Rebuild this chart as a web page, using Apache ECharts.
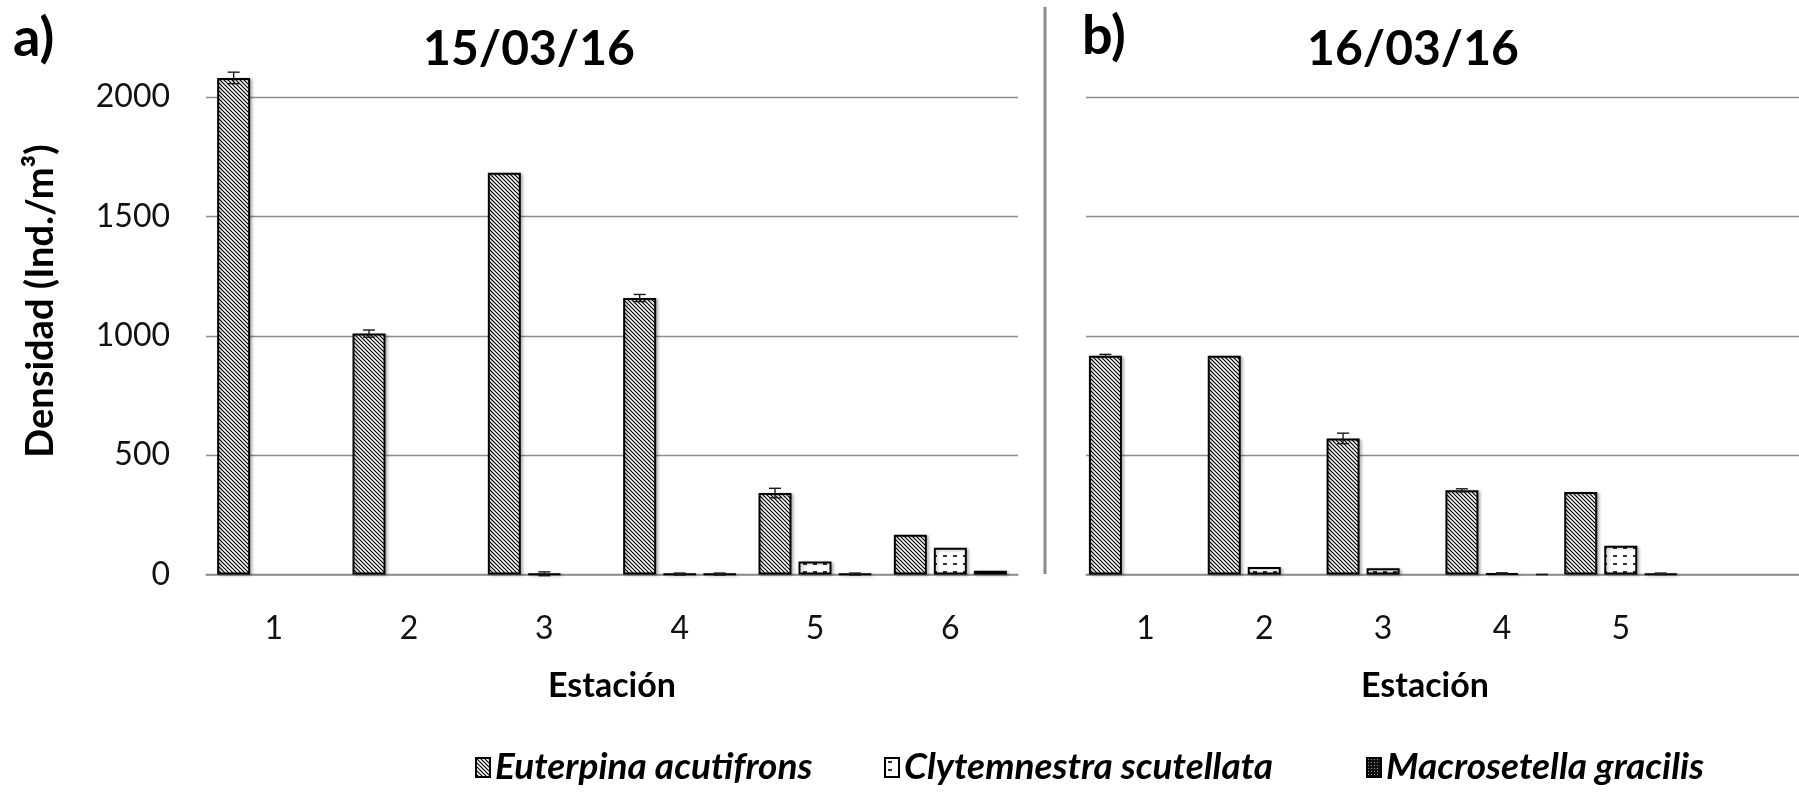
<!DOCTYPE html>
<html>
<head>
<meta charset="utf-8">
<script src="https://cdn.jsdelivr.net/npm/echarts@6/dist/echarts.min.js"></script>
<style>
  html, body { margin: 0; padding: 0; background: #ffffff; }
  #chart { width: 1799px; height: 792px; }
</style>
</head>
<body>
<div id="chart"></div>
<script>
// ---- data ----
const speciesNames = ['Euterpina acutifrons', 'Clytemnestra scutellata', 'Macrosetella gracilis'];
const stationsA = ['1', '2', '3', '4', '5', '6'];
const stationsB = ['1', '2', '3', '4', '5'];
const yMin = 0, yMax = 2000, yStep = 500;

// 15/03/16 — mean density and error (Ind./m³)
const euterpinaA       = [2080, 1009, 1683, 1158, 341, 166];
const euterpinaErrA    = [24, 15, null, 15, 20, null];
const clytemnestraA    = [null, null, 3, 2, 54, 112];
const clytemnestraErrA = [null, null, 8, 4, null, null];
const macrosetellaA    = [null, null, null, 2, 2, 16];
const macrosetellaErrA = [null, null, null, 4, 4, null];

// 16/03/16
const euterpinaB       = [916, 916, 570, 353, 346];
const euterpinaErrB    = [6, null, 22, 6, null];
const clytemnestraB    = [null, 31, 26, 4, 120];
const clytemnestraErrB = [null, null, null, 3, null];
const macrosetellaB    = [null, null, null, 0, 3];
const macrosetellaErrB = [null, null, null, 0, 3];

// ---- fill patterns ----
function hatchPattern() {
  const c = document.createElement('canvas');
  c.width = 4; c.height = 4;
  const g = c.getContext('2d');
  g.fillStyle = '#fff'; g.fillRect(0, 0, 4, 4);
  g.strokeStyle = '#000'; g.lineWidth = 1.2;
  g.beginPath();
  g.moveTo(-1, -1); g.lineTo(5, 5);
  g.moveTo(-1, 3); g.lineTo(1, 5);
  g.moveTo(3, -1); g.lineTo(5, 1);
  g.stroke();
  return { image: c, repeat: 'repeat' };
}
function dashPattern() {
  const c = document.createElement('canvas');
  c.width = 10; c.height = 8;
  const g = c.getContext('2d');
  g.fillStyle = '#fff'; g.fillRect(0, 0, 10, 8);
  g.strokeStyle = '#000'; g.lineWidth = 1.6;
  g.beginPath(); g.moveTo(3, 4); g.lineTo(7, 4); g.stroke();
  return { image: c, repeat: 'repeat' };
}
function dotPattern() {
  const c = document.createElement('canvas');
  c.width = 3; c.height = 3;
  const g = c.getContext('2d');
  g.fillStyle = '#111'; g.fillRect(0, 0, 3, 3);
  g.fillStyle = '#9a9a9a'; g.fillRect(1, 1, 1, 1);
  return { image: c, repeat: 'repeat' };
}
const fills = [hatchPattern(), dashPattern(), dotPattern()];

// ---- layout constants ----
const BAR_W = 33, BAR_GAP = 7;
const FONT = 'Lato, "Open Sans", sans-serif';
const GRID_TOP = 97, GRID_H = 477.5;

function barSeries(name, idx, data, axis) {
  return {
    name, type: 'bar', xAxisIndex: axis, yAxisIndex: axis,
    // zero-height bars are left to the error-bar layer
    data: data.map(v => (v === 0 ? null : v)),
    barWidth: BAR_W, barGap: (BAR_GAP / BAR_W * 100) + '%',
    clip: false,
    itemStyle: {
      color: fills[idx], borderColor: '#000', borderWidth: 2,
      shadowColor: 'rgba(0,0,0,0.25)', shadowBlur: 3, shadowOffsetX: 2, shadowOffsetY: 1
    },
    emphasis: { disabled: true }
  };
}

function errorData(values, errs) {
  const out = [];
  values.forEach((vals, s) => {
    vals.forEach((v, i) => {
      if (v != null && errs[s][i] != null) out.push([i, v, errs[s][i], s]);
    });
  });
  return out;
}

function errorSeries(data, axis) {
  return {
    type: 'custom', xAxisIndex: axis, yAxisIndex: axis, clip: false, z: 5,
    data,
    renderItem(params, api) {
      const cat = api.value(0), v = api.value(1), e = api.value(2), s = api.value(3);
      const off = (s - 1) * (BAR_W + BAR_GAP);
      const hi = api.coord([cat, v + e]);
      const lo = api.coord([cat, v - e]);
      const x = hi[0] + off, cap = 6;
      const st = { stroke: '#1a1a1a', lineWidth: 1.4 };
      return {
        type: 'group',
        children: [
          { type: 'line', shape: { x1: x, y1: hi[1], x2: x, y2: lo[1] }, style: st },
          { type: 'line', shape: { x1: x - cap, y1: hi[1], x2: x + cap, y2: hi[1] }, style: st },
          { type: 'line', shape: { x1: x - cap, y1: lo[1], x2: x + cap, y2: lo[1] }, style: st }
        ]
      };
    }
  };
}

const catAxisBase = {
  type: 'category',
  axisLine: { lineStyle: { color: '#8c8c8c', width: 1.5 } },
  axisTick: { show: false },
  axisLabel: { color: '#111', fontFamily: FONT, fontSize: 32, margin: 38 }
};
const valAxisBase = {
  type: 'value', min: yMin, max: yMax, interval: yStep,
  axisLine: { show: false }, axisTick: { show: false },
  splitLine: { lineStyle: { color: '#8c8c8c', width: 1.4 } }
};

const valuesA = [euterpinaA, clytemnestraA, macrosetellaA];
const errsA = [euterpinaErrA, clytemnestraErrA, macrosetellaErrA];
const valuesB = [euterpinaB, clytemnestraB, macrosetellaB];
const errsB = [euterpinaErrB, clytemnestraErrB, macrosetellaErrB];

const legendLeft = [470, 879, 1361];

const chart = echarts.init(document.getElementById('chart'));
chart.setOption({
  animation: false,
  backgroundColor: '#fff',
  grid: [
    { left: 206, width: 812, top: GRID_TOP, height: GRID_H },
    { left: 1086, width: 814.5, top: GRID_TOP, height: GRID_H }
  ],
  xAxis: [
    Object.assign({ gridIndex: 0, data: stationsA }, catAxisBase),
    Object.assign({ gridIndex: 1, data: stationsB, max: stationsB.length }, catAxisBase)
  ],
  yAxis: [
    Object.assign({ gridIndex: 0, axisLabel: { color: '#111', fontFamily: FONT, fontSize: 32, margin: 36, formatter: v => String(v) } }, valAxisBase),
    Object.assign({ gridIndex: 1, axisLabel: { show: false } }, valAxisBase)
  ],
  legend: speciesNames.map((n, i) => ({
    data: [n], left: legendLeft[i], top: 744,
    icon: 'rect', itemWidth: 14, itemHeight: 19, itemGap: 8,
    selectedMode: false,
    textStyle: { color: '#000', fontFamily: FONT, fontSize: 37, fontWeight: 'bold', fontStyle: 'italic' }
  })),
  series: [
    ...valuesA.map((d, i) => barSeries(speciesNames[i], i, d, 0)),
    ...valuesB.map((d, i) => barSeries(speciesNames[i], i, d, 1)),
    errorSeries(errorData(valuesA, errsA), 0),
    errorSeries(errorData(valuesB, errsB), 1)
  ],
  graphic: [
    { type: 'line', shape: { x1: 1045, y1: 7, x2: 1045, y2: 574 }, style: { stroke: '#8a8a8a', lineWidth: 3 } },
    { type: 'text', x: 13, y: 39, style: { text: 'a)', font: 'bold 54px ' + FONT, fill: '#000', textVerticalAlign: 'middle' } },
    { type: 'text', x: 529, y: 50, style: { text: '15/03/16', font: 'bold 48px ' + FONT, fill: '#000', textAlign: 'center', textVerticalAlign: 'middle' } },
    { type: 'text', x: 1082, y: 37, style: { text: 'b)', font: 'bold 54px ' + FONT, fill: '#000', textVerticalAlign: 'middle' } },
    { type: 'text', x: 1413, y: 50, style: { text: '16/03/16', font: 'bold 48px ' + FONT, fill: '#000', textAlign: 'center', textVerticalAlign: 'middle' } },
    { type: 'text', x: 41, y: 301, rotation: Math.PI / 2, style: { text: 'Densidad (Ind./m³)', font: 'bold 38px ' + FONT, fill: '#000', textAlign: 'center', textVerticalAlign: 'middle' } },
    { type: 'text', x: 612, y: 686, style: { text: 'Estación', font: 'bold 34px ' + FONT, fill: '#000', textAlign: 'center', textVerticalAlign: 'middle' } },
    { type: 'text', x: 1425, y: 686, style: { text: 'Estación', font: 'bold 34px ' + FONT, fill: '#000', textAlign: 'center', textVerticalAlign: 'middle' } }
  ]
});
</script>
</body>
</html>
